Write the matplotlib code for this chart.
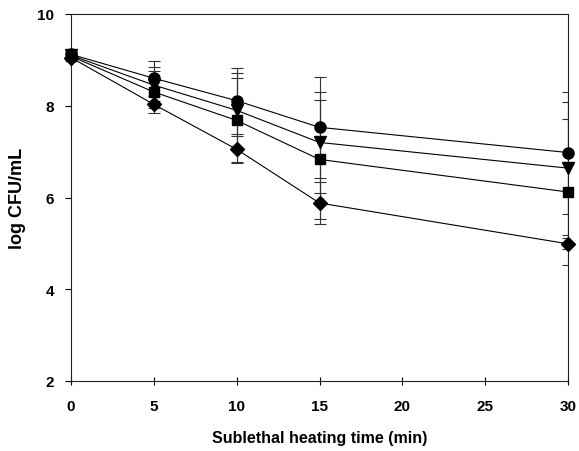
import numpy as np
import matplotlib
matplotlib.use("Agg")
import matplotlib.pyplot as plt

# sublethal heating time (min)
time = [0, 5, 10, 15, 30]

# log CFU/mL for the four series, with standard deviations
circle_vals = [9.12, 8.60, 8.11, 7.53, 6.98]
circle_err = [0.05, 0.38, 0.72, 1.10, 1.33]
triangle_vals = [9.10, 8.45, 7.90, 7.20, 6.64]
triangle_err = [0.05, 0.40, 0.82, 1.11, 1.45]
square_vals = [9.08, 8.30, 7.68, 6.83, 6.12]
square_err = [0.05, 0.46, 0.93, 1.30, 1.60]
diamond_vals = [9.05, 8.03, 7.05, 5.88, 4.99]
diamond_err = [0.05, 0.08, 0.28, 0.45, 0.12]

x_ticks = [0, 5, 10, 15, 20, 25, 30]
y_ticks = [2, 4, 6, 8, 10]

plt.rcParams['font.family'] = ['Liberation Sans', 'DejaVu Sans']

fig = plt.figure(figsize=(5.79, 4.52), dpi=100)
ax = fig.add_axes([71 / 579, 1 - 382 / 452, 497 / 579, 367 / 452])

series = [
    (circle_vals, circle_err, 'o', 8),
    (triangle_vals, triangle_err, 'v', 8),
    (square_vals, square_err, 's', 7),
    (diamond_vals, diamond_err, 'D', 7),
]
for vals, err, marker, ms in series:
    ax.errorbar(time, vals, yerr=err, fmt='none', ecolor='#333333',
                elinewidth=0.8, capsize=4, capthick=0.8, zorder=2)
    ax.plot(time, vals, color='black', lw=0.8, marker=marker,
            markersize=ms, markerfacecolor='black',
            markeredgecolor='black', zorder=3, clip_on=False)

ax.set_xlim(0, 30)
ax.set_ylim(2, 10)
ax.set_xticks(x_ticks)
ax.set_yticks(y_ticks)
ax.tick_params(axis='y', direction='out', length=4, width=0.8, labelsize=11, pad=8)
ax.tick_params(axis='x', direction='inout', length=6, width=0.8, labelsize=11, pad=10)
for lbl in ax.get_xticklabels() + ax.get_yticklabels():
    lbl.set_fontweight('bold')

for sp in ax.spines.values():
    sp.set_linewidth(0.8)
    sp.set_color('#222222')

ax.set_xlabel('Sublethal heating time (min)', fontsize=11.5, fontweight='bold', va='center')
ax.set_ylabel('log CFU/mL', fontsize=13, fontweight='bold', va='center')
ax.xaxis.set_label_coords(0.5, (382 - 439) / 367)
ax.yaxis.set_label_coords((18 - 71) / 497, 0.5)

fig.savefig('out.png', dpi=100)
